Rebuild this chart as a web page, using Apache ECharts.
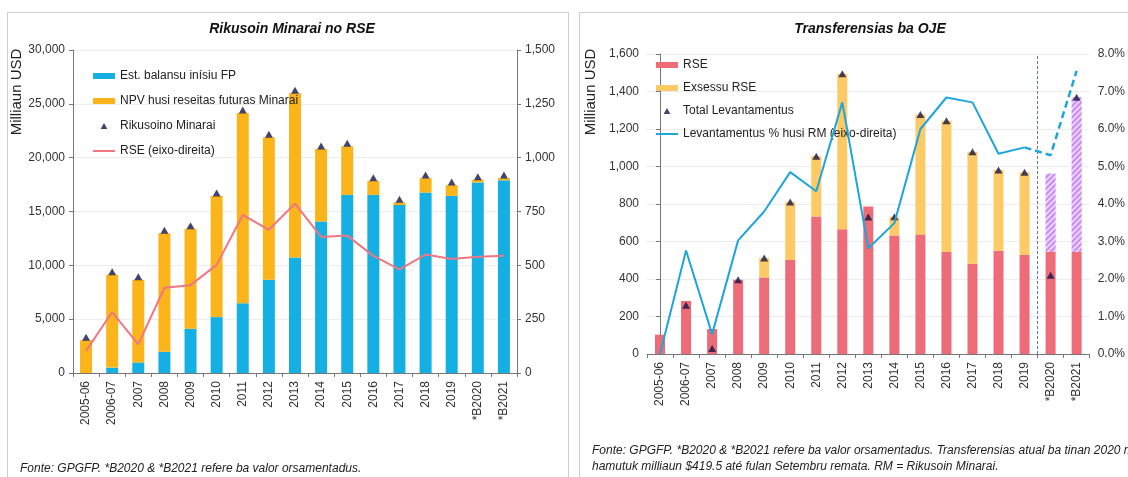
<!DOCTYPE html>
<html>
<head>
<meta charset="utf-8">
<script src="https://cdn.jsdelivr.net/npm/echarts@6/dist/echarts.min.js"></script>
<style>
html, body { margin: 0; padding: 0; background: #fff; overflow: hidden; }
.panel { position: absolute; border: 1px solid #cfcfcf; box-sizing: border-box; }
#chart { position: absolute; left: 0; top: 0; width: 1128px; height: 477px; }
</style>
</head>
<body>
<div class="panel" style="left:7px;top:12px;width:562px;height:490px"></div>
<div class="panel" style="left:579px;top:12px;width:570px;height:490px"></div>
<div id="chart"></div>
<script>
// categorias (hanesan iha grafiku rua)
const categories = ['2005-06', '2006-07', '2007', '2008', '2009', '2010', '2011', '2012', '2013',
  '2014', '2015', '2016', '2017', '2018', '2019', '*B2020', '*B2021'];

// Grafiku 1: Rikusoin Minarai no RSE (Milliaun USD)
const balansuFP = [0, 500, 980, 1980, 4120, 5190, 6480, 8650, 10720, 14060, 16540, 16540, 15600, 16760, 16450, 17700, 17900];
const npvMinarai = [3050, 8620, 7670, 11010, 9280, 11250, 17670, 13250, 15260, 6740, 4510, 1310, 250, 1340, 1000, 250, 200];
const rikusoinMinarai = [3050, 9120, 8650, 12990, 13400, 16440, 24150, 21900, 25980, 20800, 21050, 17850, 15850, 18100, 17450, 17950, 18100];
const rseLine = [103, 283, 133, 396, 408, 502, 734, 665, 787, 632, 638, 544, 481, 550, 529, 540, 545];

// Grafiku 2: Transferensias ba OJE
const rseBar = [103, 283, 133, 396, 408, 502, 734, 665, 787, 632, 638, 544, 481, 550, 529, 544, 545];
const exsessuRSE = [0, 0, 0, 0, 104, 309, 321, 830, 0, 100, 640, 700, 598, 432, 440, null, null];
const exsessuOrsamentu = [null, null, null, null, null, null, null, null, null, null, null, null, null, null, null, 418, 825];
const totalLevantamentus = [null, 260, 30, 396, 512, 811, 1055, 1495, 731, 732, 1278, 1244, 1079, 982, 969, 419.5, 1370];
const levantamentusPct = [0.0, 2.76, 0.53, 3.03, 3.80, 4.85, 4.34, 6.71, 2.82, 3.49, 6.00, 6.84, 6.71, 5.34, 5.51, null, null];
const levantamentusPctOrs = [null, null, null, null, null, null, null, null, null, null, null, null, null, null, 5.51, 5.30, 7.55];

const font = '"Liberation Sans", Arial, sans-serif';
const triIcon = 'path://M5,0L10,9L0,9Z';
const lineIcon = 'path://M0,0H22V2H0Z';
const dividerPos = categories.indexOf('2019') + 0.5;

let myChart = echarts.init(document.getElementById('chart'));

const tickLbl = { fontSize: 12, color: '#333', fontFamily: font };
const axisLine = { show: true, lineStyle: { color: '#777', width: 1 } };
const axisTick = { show: true, length: 4, lineStyle: { color: '#777' } };
const gridLine = { show: true, lineStyle: { color: '#ececec', width: 1 } };
const fmtComma = v => v.toLocaleString('en-US');

let option = {
  animation: false,
  textStyle: { fontFamily: font },
  title: [
    { text: 'Rikusoin Minarai no RSE', left: 287, top: 17, textAlign: 'center',
      textStyle: { fontSize: 14, fontWeight: 'bold', fontStyle: 'italic', color: '#111', fontFamily: font } },
    { text: 'Transferensias ba OJE', left: 865, top: 17, textAlign: 'center',
      textStyle: { fontSize: 14, fontWeight: 'bold', fontStyle: 'italic', color: '#111', fontFamily: font } },
    { text: 'Fonte: GPGFP. *B2020 & *B2021 refere ba valor orsamentadus.', left: 15, top: 458,
      textStyle: { fontSize: 12, fontWeight: 'normal', fontStyle: 'italic', color: '#222', fontFamily: font } },
    { text: 'Fonte: GPGFP. *B2020 & *B2021 refere ba valor orsamentadus. Transferensias atual ba tinan 2020 maka\nhamutuk milliaun $419.5 até fulan Setembru remata. RM = Rikusoin Minarai.',
      left: 587, top: 438,
      textStyle: { fontSize: 12, fontWeight: 'normal', fontStyle: 'italic', color: '#222', fontFamily: font, lineHeight: 16 } }
  ],
  graphic: [
    { type: 'text', x: 17, y: 92, rotation: Math.PI / 2,
      style: { text: 'Milliaun USD', font: '15px ' + font, fill: '#222', align: 'center', verticalAlign: 'middle' } },
    { type: 'text', x: 591, y: 92, rotation: Math.PI / 2,
      style: { text: 'Milliaun USD', font: '15px ' + font, fill: '#222', align: 'center', verticalAlign: 'middle' } }
  ],
  legend: [
    {
      orient: 'vertical', left: 88, top: 64, itemWidth: 22, itemHeight: 6, itemGap: 11,
      symbolKeepAspect: true, selectedMode: false,
      textStyle: { fontSize: 12, color: '#222', fontFamily: font, lineHeight: 14 },
      data: [
        { name: 'Est. balansu inísiu FP', icon: 'rect' },
        { name: 'NPV husi reseitas futuras Minarai', icon: 'rect' },
        { name: 'Rikusoino Minarai', icon: triIcon },
        { name: 'RSE (eixo-direita)', icon: lineIcon }
      ]
    },
    {
      orient: 'vertical', left: 651, top: 53, itemWidth: 22, itemHeight: 6, itemGap: 9,
      symbolKeepAspect: true, selectedMode: false,
      textStyle: { fontSize: 12, color: '#222', fontFamily: font, lineHeight: 14 },
      data: [
        { name: 'RSE', icon: 'rect' },
        { name: 'Exsessu RSE', icon: 'rect' },
        { name: 'Total Levantamentus', icon: triIcon },
        { name: 'Levantamentus % husi RM (eixo-direita)', icon: lineIcon }
      ]
    }
  ],
  grid: [
    { left: 73, top: 50, width: 444, height: 323 },
    { left: 647, top: 54, width: 445, height: 300 }
  ],
  xAxis: [
    { type: 'category', gridIndex: 0, data: categories, axisLine: axisLine, axisTick: axisTick,
      axisLabel: Object.assign({ rotate: 90, margin: 8, interval: 0 }, tickLbl) },
    { type: 'category', gridIndex: 1, data: categories, axisLine: axisLine, axisTick: axisTick,
      axisLabel: Object.assign({ rotate: 90, margin: 8, interval: 0 }, tickLbl) },
    { type: 'value', gridIndex: 1, min: -0.5, max: categories.length - 0.5, show: false }
  ],
  yAxis: [
    { type: 'value', gridIndex: 0, min: 0, max: 30000, interval: 5000, axisLine: axisLine, axisTick: axisTick,
      splitLine: gridLine, axisLabel: Object.assign({ formatter: fmtComma }, tickLbl) },
    { type: 'value', gridIndex: 0, position: 'right', min: 0, max: 1500, interval: 250, axisLine: axisLine,
      axisTick: axisTick, splitLine: { show: false }, axisLabel: Object.assign({ formatter: fmtComma }, tickLbl) },
    { type: 'value', gridIndex: 1, min: 0, max: 1600, interval: 200, axisLine: axisLine, axisTick: axisTick,
      splitLine: gridLine, axisLabel: Object.assign({ formatter: fmtComma }, tickLbl) },
    { type: 'value', gridIndex: 1, position: 'right', min: 0, max: 8, interval: 1, axisLine: { show: false },
      axisTick: { show: false }, splitLine: { show: false },
      axisLabel: Object.assign({ formatter: v => v.toFixed(1) + '%' }, tickLbl) }
  ],
  series: [
    // grafiku 1
    { name: 'Est. balansu inísiu FP', type: 'bar', stack: 'fp', xAxisIndex: 0, yAxisIndex: 0,
      barWidth: 12, itemStyle: { color: '#14b0e4' }, data: balansuFP },
    { name: 'NPV husi reseitas futuras Minarai', type: 'bar', stack: 'fp', xAxisIndex: 0, yAxisIndex: 0,
      barWidth: 12, itemStyle: { color: '#fbb41a' }, data: npvMinarai },
    { name: 'Rikusoino Minarai', type: 'scatter', xAxisIndex: 0, yAxisIndex: 0, symbol: 'triangle',
      symbolSize: [8, 7], symbolOffset: [0, -3], itemStyle: { color: '#141446' }, z: 5, data: rikusoinMinarai },
    { name: 'RSE (eixo-direita)', type: 'line', xAxisIndex: 0, yAxisIndex: 1, symbol: 'none',
      lineStyle: { color: '#f07684', width: 2 }, itemStyle: { color: '#f07684' }, z: 6, data: rseLine },
    // grafiku 2
    { name: 'RSE', type: 'bar', stack: 'oje', xAxisIndex: 1, yAxisIndex: 2, barWidth: 10,
      itemStyle: { color: '#ee6b78' }, data: rseBar },
    { name: 'Exsessu RSE', type: 'bar', stack: 'oje', xAxisIndex: 1, yAxisIndex: 2, barWidth: 10,
      itemStyle: { color: '#fdca66' }, data: exsessuRSE },
    { name: 'Exsessu RSE orsamentu', type: 'bar', stack: 'oje', xAxisIndex: 1, yAxisIndex: 2, barWidth: 10,
      itemStyle: { color: '#eed2fc', decal: { symbol: 'rect', color: '#c68cf2', dashArrayX: [1, 0], dashArrayY: [1.5, 2], rotation: -Math.PI / 4 } },
      data: exsessuOrsamentu },
    { name: 'Total Levantamentus', type: 'scatter', xAxisIndex: 1, yAxisIndex: 2, symbol: 'triangle',
      symbolSize: [8, 7], itemStyle: { color: '#141446' }, z: 5, data: totalLevantamentus },
    { name: 'Levantamentus % husi RM (eixo-direita)', type: 'line', xAxisIndex: 1, yAxisIndex: 3, symbol: 'none',
      lineStyle: { color: '#1ea5da', width: 2 }, itemStyle: { color: '#1ea5da' }, z: 6, data: levantamentusPct },
    { name: 'Levantamentus orsamentu', type: 'line', xAxisIndex: 1, yAxisIndex: 3, symbol: 'none',
      lineStyle: { color: '#1ea5da', width: 2.5, type: [7, 4] }, z: 6, data: levantamentusPctOrs },
    { name: 'divizaun', type: 'line', xAxisIndex: 2, yAxisIndex: 2, data: [],
      markLine: { silent: true, symbol: 'none', label: { show: false },
        lineStyle: { color: '#6777aa', width: 1, type: [3, 2] }, data: [{ xAxis: dividerPos }] } }
  ]
};

option && myChart.setOption(option);
</script>
</body>
</html>
